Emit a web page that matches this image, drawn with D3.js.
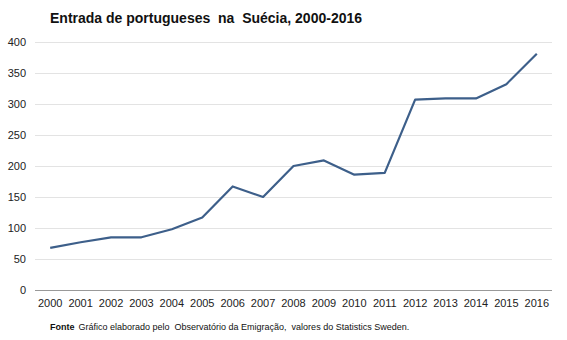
<!DOCTYPE html>
<html><head><meta charset="utf-8">
<script src="https://cdn.jsdelivr.net/npm/d3@7"></script>
<style>body{margin:0;background:#fff;}svg{display:block;font-family:"Liberation Sans",Arial,sans-serif;}</style>
</head><body>
<svg id="c" width="567" height="340"></svg>
<script>
const years = ["2000","2001","2002","2003","2004","2005","2006","2007","2008","2009","2010","2011","2012","2013","2014","2015","2016"];
const values = [68,77,85,85,98,117,167,150,200,209,186,189,307,309,309,332,381];
const yTicks = [0,50,100,150,200,250,300,350,400];

(function(){
const svg = d3.select("#c");
const mLeft = 35, mRight = 552, mTop = 42, mBottom = 290;
const x = d3.scaleBand().domain(years).range([mLeft, mRight]);
const y = d3.scaleLinear().domain([0, 400]).range([mBottom, mTop]);

svg.append("g").selectAll("line").data(yTicks.filter(d => d > 0)).join("line")
  .attr("x1", mLeft).attr("x2", mRight)
  .attr("y1", d => y(d) + 0.5).attr("y2", d => y(d) + 0.5)
  .attr("stroke", "#e3e3e3").attr("stroke-width", 1);

svg.append("line").attr("x1", mLeft).attr("x2", mRight)
  .attr("y1", y(0) + 0.5).attr("y2", y(0) + 0.5)
  .attr("stroke", "#999").attr("stroke-width", 1);

svg.append("g").selectAll("text").data(yTicks).join("text")
  .attr("x", 26).attr("y", d => y(d) + 4)
  .attr("text-anchor", "end").attr("font-size", 11).attr("fill", "#222")
  .text(d => d);

svg.append("g").selectAll("text").data(years).join("text")
  .attr("x", d => x(d) + x.bandwidth() / 2).attr("y", 307)
  .attr("text-anchor", "middle").attr("font-size", 11).attr("fill", "#222")
  .text(d => d);

const line = d3.line().x((d, i) => x(years[i]) + x.bandwidth() / 2).y(d => y(d));
svg.append("path").datum(values).attr("d", line)
  .attr("fill", "none").attr("stroke", "#3d5f8a").attr("stroke-width", 2.2)
  .attr("stroke-linejoin", "round");

svg.append("text").attr("x", 50).attr("y", 23).style("white-space", "pre")
  .attr("font-size", 14).attr("font-weight", "bold").attr("fill", "#111")
  .text("Entrada de portugueses  na  Suécia, 2000-2016");

const f = svg.append("text").attr("x", 50).attr("y", 330).attr("font-size", 9).attr("fill", "#111").style("white-space", "pre");
f.append("tspan").attr("font-weight", "bold").text("Fonte");
f.append("tspan").attr("dx", 4).text("Gráfico elaborado pelo  Observatório da Emigração,  valores do Statistics Sweden.");
})();
</script>
</body></html>
